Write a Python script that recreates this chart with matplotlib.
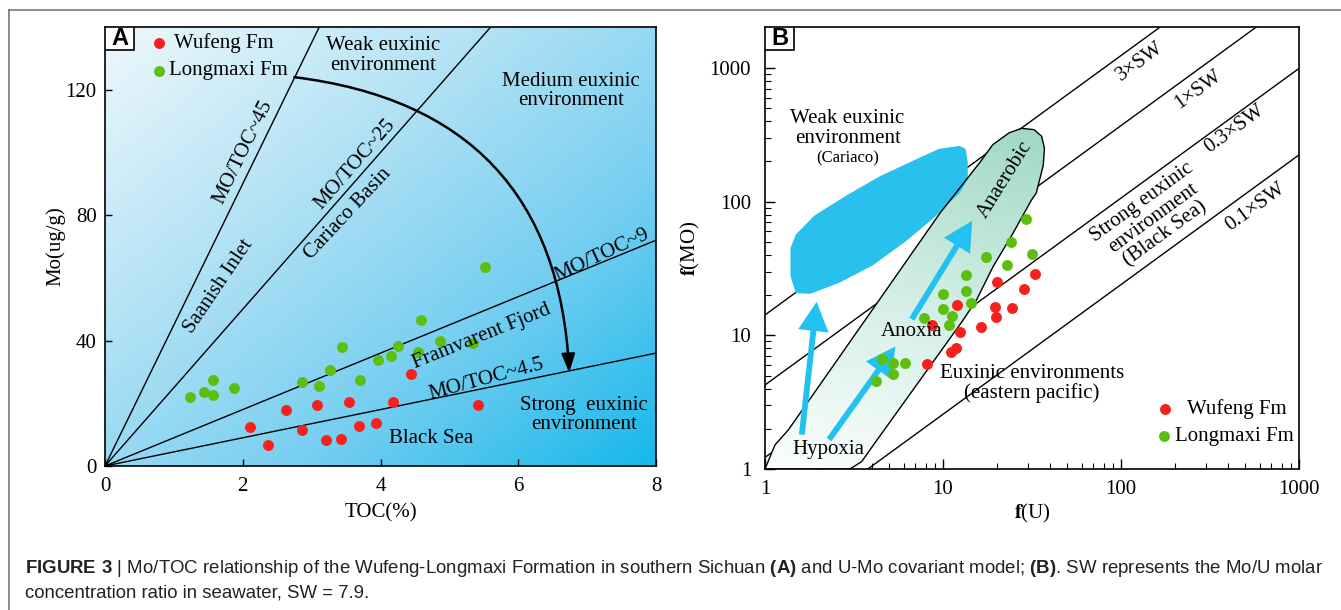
import numpy as np
import matplotlib
matplotlib.use("Agg")
import matplotlib.pyplot as plt
from matplotlib.patches import Polygon, FancyArrowPatch, Rectangle
from matplotlib.lines import Line2D
from matplotlib.colors import LinearSegmentedColormap
from matplotlib.ticker import LogLocator, NullFormatter, FixedLocator

plt.rcParams['font.family'] = ['Liberation Serif', 'DejaVu Serif']
plt.rcParams['mathtext.fontset'] = 'custom'
plt.rcParams['mathtext.rm'] = 'Liberation Sans'
plt.rcParams['mathtext.bf'] = 'Liberation Sans:bold'

# ---------------- Panel A data ----------------
wufeng_toc = [2.11, 2.36, 2.63, 2.86, 3.08, 3.21, 3.43, 3.54, 3.69, 3.93, 4.18, 4.45, 5.41]
wufeng_mo = [12.3, 6.7, 17.7, 11.4, 19.4, 8.3, 8.6, 20.5, 12.7, 13.6, 20.4, 29.2, 19.5]
longmaxi_toc = [1.24, 1.44, 1.57, 1.57, 1.87, 2.86, 3.10, 3.26, 3.44, 3.70, 3.96, 4.15,
                4.26, 4.55, 4.59, 4.86, 5.34, 5.52]
longmaxi_mo = [22.1, 23.5, 27.4, 22.6, 24.8, 26.8, 25.4, 30.7, 37.9, 27.4, 33.9, 35.1,
               38.2, 36.2, 46.5, 39.9, 39.3, 63.6]
mo_toc_ratios = [45, 25, 9, 4.5]
a_xticks = [0, 2, 4, 6, 8]
a_yticks = [0, 40, 80, 120]

# ---------------- Panel B data ----------------
wufeng_fu = [32.9, 20.0, 28.5, 12.0, 19.5, 24.4, 19.8, 16.3, 8.65, 12.4, 11.8, 11.1, 8.08]
wufeng_fmo = [28.9, 25.2, 22.1, 16.8, 16.4, 16.1, 13.8, 11.5, 11.9, 10.5, 8.08, 7.54, 6.07]
longmaxi_fu = [29.4, 24.0, 31.5, 17.5, 22.8, 13.5, 9.94, 13.4, 14.3, 9.94, 11.3, 7.87,
               10.8, 4.52, 5.25, 6.08, 5.21, 4.18]
longmaxi_fmo = [73.8, 50.1, 40.3, 38.7, 33.6, 28.4, 20.4, 21.4, 17.4, 15.6, 13.9, 13.5,
                11.9, 6.61, 6.24, 6.21, 5.11, 4.58]
sw_labels = ['3×SW', '1×SW', '0.3×SW', '0.1×SW']
sw_intercepts = [14.2, 4.25, 1.22, 0.275]
sw_exponent = 0.97
b_ticks = [1, 10, 100, 1000]

# region outlines (log10 f(U), log10 f(MO))
cariaco_logu = [0.173, 0.143, 0.143, 0.173, 0.278, 0.464, 0.650, 0.837, 0.976, 1.093,
                1.127, 1.139, 1.139, 1.093, 0.953, 0.790, 0.604, 0.418, 0.254]
cariaco_logmo = [1.316, 1.444, 1.651, 1.754, 1.896, 2.051, 2.193, 2.309, 2.394, 2.417,
                 2.394, 2.296, 2.167, 2.064, 1.883, 1.702, 1.522, 1.393, 1.310]
anaerobic_logu = [0.0, 0.056, 0.131, 0.982, 1.209, 1.279, 1.372, 1.442, 1.512, 1.554,
                  1.570, 1.563, 1.524, 1.497, 1.393, 1.281, 1.188, 1.113, 0.589, 0.543,
                  0.477, 0.0]
anaerobic_logmo = [0.0, 0.180, 0.292, 1.912, 2.296, 2.425, 2.515, 2.548, 2.538, 2.489,
                   2.399, 2.270, 2.064, 2.012, 1.763, 1.513, 1.264, 1.114, 0.142, 0.055,
                   0.0, 0.0]
arrow_tail_fu = [1.61, 2.29, 6.68]
arrow_tail_fmo = [1.81, 1.66, 13.2]
arrow_tip_fu = [1.95, 5.40, 14.6]
arrow_tip_fmo = [17.8, 8.24, 71.9]

RED = '#f8201c'
GREEN = '#5cbf0e'
CYAN = '#22c1f1'
FS = 15

W, H = 1341, 610
fig = plt.figure(figsize=(W / 100, H / 100), dpi=100)
fig.patch.set_facecolor('white')


def fr(x0, y0, x1, y1):
    return [x0 / W, 1 - y1 / H, (x1 - x0) / W, (y1 - y0) / H]


# ======================= Panel A =======================
axA = fig.add_axes(fr(105, 27, 656, 466))
axA.set_xlim(0, 8)
axA.set_ylim(0, 140)
bg_cmap = LinearSegmentedColormap.from_list(
    'bg', ['#eef8fc', '#b6e3f5', '#78cff1', '#17b8eb'])
gx, gy = np.meshgrid(np.linspace(0, 1, 300), np.linspace(0, 1, 300))
grad = np.clip(0.5 * gx + 0.5 * gy, 0, 1)   # gy=1 at bottom (origin='upper')
axA.imshow(grad, extent=[0, 8, 0, 140], origin='upper', aspect='auto',
           cmap=bg_cmap, vmin=0, vmax=1, zorder=0, interpolation='bilinear')

xs = np.linspace(0, 8, 50)
for k in mo_toc_ratios:
    axA.plot(xs, k * xs, color='black', lw=1.0, zorder=2)

arc = FancyArrowPatch((2.75, 124.0), (6.74, 29.8), connectionstyle='arc3,rad=-0.42',
                      arrowstyle='-|>,head_length=0.55,head_width=0.2',
                      mutation_scale=20, lw=1.8, color='black', zorder=3,
                      shrinkA=0, shrinkB=0)
axA.add_patch(arc)

axA.scatter(longmaxi_toc, longmaxi_mo, s=62, color=GREEN, zorder=4, linewidths=0)
axA.scatter(wufeng_toc, wufeng_mo, s=62, color=RED, zorder=4, linewidths=0)

# legend A
axA.scatter([0.78], [134.9], s=62, color=RED, zorder=5, linewidths=0)
axA.scatter([0.78], [126.1], s=62, color=GREEN, zorder=5, linewidths=0)
axA.text(1.0, 134.9, 'Wufeng Fm', fontsize=FS, va='center', ha='left', zorder=5)
axA.text(0.93, 126.1, 'Longmaxi Fm', fontsize=FS, va='center', ha='left', zorder=5)

tkw = dict(fontsize=FS, ha='center', va='center', rotation_mode='anchor', zorder=5)
axA.text(4.04, 131.0, 'Weak euxinic\nenvironment', linespacing=1.05, **tkw)
axA.text(6.77, 119.6, 'Medium euxinic\nenvironment', linespacing=1.05, **tkw)
axA.text(2.0, 100.0, 'MO/TOC~45', rotation=64, **tkw)
axA.text(3.63, 96.2, 'MO/TOC~25', rotation=49, **tkw)
axA.text(3.53, 80.3, 'Cariaco Basin', rotation=47, **tkw)
axA.text(1.65, 57.2, 'Saanish Inlet', rotation=56, **tkw)
axA.text(7.22, 67.3, 'MO/TOC~9', rotation=25, **tkw)
axA.text(5.47, 41.3, 'Framvarent Fjord', rotation=22, **tkw)
axA.text(5.54, 27.6, 'MO/TOC~4.5', rotation=15, **tkw)
axA.text(6.95, 16.3, 'Strong  euxinic\nenvironment', linespacing=1.05, **tkw)
axA.text(4.73, 8.8, 'Black Sea', **tkw)

axA.set_xticks(a_xticks)
axA.set_yticks(a_yticks)
axA.tick_params(direction='in', length=5, width=1, labelsize=FS, pad=8)
axA.tick_params(axis='y', pad=6)
axA.set_xlabel('TOC(%)', fontsize=FS)
axA.set_ylabel('Mo(ug/g)', fontsize=FS)
axA.xaxis.set_label_coords(0.5, -0.085)
axA.yaxis.set_label_coords(-0.072, 0.5)
for s in axA.spines.values():
    s.set_linewidth(1.2)
    s.set_zorder(6)

axA.add_patch(Rectangle((0, 1 - 23 / 439), 29 / 551, 23 / 439, transform=axA.transAxes,
                        facecolor='white', edgecolor='black', lw=1.2, zorder=7))
axA.text(14.5 / 551, 1 - 11.5 / 439, 'A', transform=axA.transAxes, ha='center', va='center',
         fontsize=17, fontweight='bold', family='Liberation Sans', zorder=8)

# ======================= Panel B =======================
axB = fig.add_axes(fr(765, 27, 1299, 469))
axB.set_xscale('log')
axB.set_yscale('log')

ul = np.logspace(0, 3, 100)
for c in sw_intercepts:
    axB.plot(ul, c * ul ** sw_exponent, color='black', lw=1.0, zorder=1)

# Anaerobic region with gradient
an_pts = np.column_stack([10 ** np.array(anaerobic_logu), 10 ** np.array(anaerobic_logmo)])
an_patch = Polygon(an_pts, closed=True, facecolor='none', edgecolor='black', lw=1.0,
                   zorder=3)
axB.add_patch(an_patch)
teal = LinearSegmentedColormap.from_list('teal', ['#fbfefd', '#d3eee6', '#9fd8c4'])
gu = np.logspace(0, 1.7, 120)
gm = np.logspace(0, 2.6, 160)
GU, GM = np.meshgrid(gu, gm)
T = np.clip(0.8 * np.log10(GM) / 2.55 + 0.2 * np.log10(GU) / 1.6, 0, 1)
mesh = axB.pcolormesh(GU, GM, T, cmap=teal, shading='gouraud', zorder=2, vmin=0, vmax=1)
mesh.set_clip_path(an_patch)

# Cariaco blob
cb = np.column_stack([10 ** np.array(cariaco_logu), 10 ** np.array(cariaco_logmo)])
axB.add_patch(Polygon(cb, closed=True, facecolor='#29c0ee', edgecolor='none', zorder=2.5))

for tu, tm, hu, hm in zip(arrow_tail_fu, arrow_tail_fmo, arrow_tip_fu, arrow_tip_fmo):
    axB.add_patch(FancyArrowPatch((tu, tm), (hu, hm),
                                  arrowstyle='simple,head_width=2.2,head_length=2.1,tail_width=0.42',
                                  mutation_scale=10, color=CYAN, lw=0, zorder=3.5,
                                  shrinkA=0, shrinkB=0))

axB.scatter(longmaxi_fu, longmaxi_fmo, s=62, color=GREEN, zorder=4, linewidths=0)
axB.scatter(wufeng_fu, wufeng_fmo, s=62, color=RED, zorder=4, linewidths=0)

axB.scatter([176], [2.83], s=62, color=RED, zorder=5, linewidths=0)
axB.scatter([174], [1.76], s=62, color=GREEN, zorder=5, linewidths=0)
axB.text(236, 2.83, 'Wufeng Fm', fontsize=FS, va='center', ha='left', zorder=5)
axB.text(201, 1.76, 'Longmaxi Fm', fontsize=FS, va='center', ha='left', zorder=5)

axB.text(2.91, 352, 'Weak euxinic\nenvironment', linespacing=1.05, **tkw)
axB.text(2.91, 209, '(Cariaco)', fontsize=12, ha='center', va='center', zorder=5)
axB.text(22.4, 147, 'Anaerobic', rotation=58, **tkw)
axB.text(6.66, 10.6, 'Anoxia', **tkw)
axB.text(31.5, 4.36, 'Euxinic environments\n(eastern pacific)', linespacing=1.05, **tkw)
axB.text(2.26, 1.39, 'Hypoxia', **tkw)
axB.text(152, 75, 'Strong euxinic\nenvironment\n(Black Sea)', rotation=36,
         linespacing=1.05, **tkw)
sw_label_fu = [127, 270, 437, 573]
sw_label_fmo = [1107, 687, 350, 91]
for lab, u, m in zip(sw_labels, sw_label_fu, sw_label_fmo):
    axB.text(u, m, lab, rotation=36, **tkw)

axB.set_xlim(1, 1000)
axB.set_ylim(1, 2023)
axB.xaxis.set_major_locator(FixedLocator(b_ticks))
axB.yaxis.set_major_locator(FixedLocator(b_ticks))
axB.set_xticklabels([str(t) for t in b_ticks])
axB.set_yticklabels([str(t) for t in b_ticks])
axB.xaxis.set_minor_locator(LogLocator(base=10, subs=np.arange(2, 10)))
axB.yaxis.set_minor_locator(LogLocator(base=10, subs=np.arange(2, 10)))
axB.xaxis.set_minor_formatter(NullFormatter())
axB.yaxis.set_minor_formatter(NullFormatter())
axB.tick_params(which='major', direction='in', length=7, width=1, labelsize=FS, pad=8)
axB.tick_params(which='minor', direction='in', length=4, width=0.8)
axB.tick_params(axis='y', which='major', pad=10)
axB.set_xlabel(r'$\mathbf{f}$(U)', fontsize=FS, math_fontfamily='stix')
axB.set_ylabel(r'$\mathbf{f}$(MO)', fontsize=FS, math_fontfamily='stix')
axB.xaxis.set_label_coords(0.5, -0.075)
axB.yaxis.set_label_coords(-0.118, 0.5)
for s in axB.spines.values():
    s.set_linewidth(1.2)
    s.set_zorder(6)

axB.add_patch(Rectangle((0, 1 - 23 / 442), 29 / 534, 23 / 442, transform=axB.transAxes,
                        facecolor='white', edgecolor='black', lw=1.2, zorder=7))
axB.text(14.5 / 534, 1 - 11.5 / 442, 'B', transform=axB.transAxes, ha='center', va='center',
         fontsize=17, fontweight='bold', family='Liberation Sans', zorder=8)

# ======================= Frame & caption =======================
fig.add_artist(Line2D([8.5 / W, 8.5 / W], [0, 1 - 10 / H], transform=fig.transFigure,
                      color='#777777', lw=1.2))
fig.add_artist(Line2D([8.5 / W, 1], [1 - 10 / H, 1 - 10 / H], transform=fig.transFigure,
                      color='#777777', lw=1.2))

cap1 = (r'$\mathbf{FIGURE\ 3}$ | Mo/TOC relationship of the Wufeng-Longmaxi Formation in '
        r'southern Sichuan $\mathbf{(A)}$ and U-Mo covariant model; $\mathbf{(B)}$. '
        r'SW represents the Mo/U molar')
cap2 = 'concentration ratio in seawater, SW = 7.9.'
ckw = dict(family='Liberation Sans', math_fontfamily='custom', color='#222222',
           ha='left', va='baseline')
t1 = fig.text(25 / W, 1 - 573 / H, cap1, fontsize=12, **ckw)
t2 = fig.text(25 / W, 1 - 597 / H, cap2, fontsize=12, **ckw)
r = fig.canvas.get_renderer()
wpx = t1.get_window_extent(renderer=r).width
fs = 12 * 1293 / wpx
t1.set_fontsize(fs)
t2.set_fontsize(fs)

fig.savefig('out.png', dpi=100, facecolor='white')
